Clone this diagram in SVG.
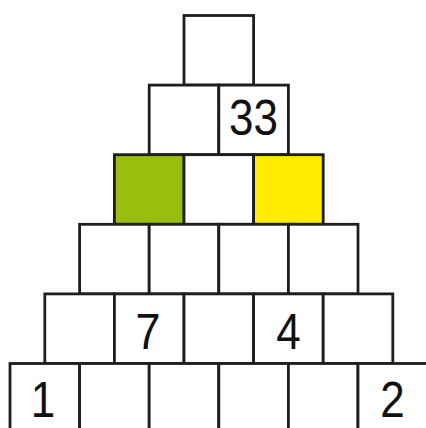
<svg xmlns="http://www.w3.org/2000/svg" width="426" height="428" viewBox="0 0 426 428">
<style>
.b{fill:#fff;stroke:#1e1e1e;stroke-width:2.8}
.g{fill:#99be0e}
.y{fill:#ffec00}
text{font-family:"Liberation Sans",Arial,sans-serif;font-size:50px;fill:#111;text-anchor:middle}
</style>
<rect width="426" height="428" fill="#fff"/>
<g id="r0"><rect class="b" x="184" y="15.5" width="69.6" height="69.6"/></g>
<g id="r1">
<rect class="b" x="149.2" y="85.1" width="69.6" height="69.6"/>
<g id="n33"><rect class="b" x="218.8" y="85.1" width="69.6" height="69.6"/><text transform="translate(253.5,135) scale(0.88,1)">33</text></g>
</g>
<g id="r2">
<rect id="green" class="b g" x="114.4" y="154.7" width="69.6" height="69.6"/>
<rect class="b" x="184" y="154.7" width="69.6" height="69.6"/>
<rect id="yellow" class="b y" x="253.6" y="154.7" width="69.6" height="69.6"/>
</g>
<g id="r3">
<rect class="b" x="79.6" y="224.3" width="69.6" height="69.6"/>
<rect class="b" x="149.2" y="224.3" width="69.6" height="69.6"/>
<rect class="b" x="218.8" y="224.3" width="69.6" height="69.6"/>
<rect class="b" x="288.4" y="224.3" width="69.6" height="69.6"/>
</g>
<g id="r4">
<rect class="b" x="44.8" y="293.9" width="69.6" height="69.6"/>
<g id="n7"><rect class="b" x="114.4" y="293.9" width="69.6" height="69.6"/><text transform="translate(148,349) scale(0.9,1)">7</text></g>
<rect class="b" x="184" y="293.9" width="69.6" height="69.6"/>
<g id="n4"><rect class="b" x="253.6" y="293.9" width="69.6" height="69.6"/><text transform="translate(288.5,349) scale(0.88,1)">4</text></g>
<rect class="b" x="323.2" y="293.9" width="69.6" height="69.6"/>
</g>
<g id="r5">
<g id="n1"><rect class="b" x="10" y="363.5" width="69.6" height="69.6"/><text transform="translate(43,417) scale(0.88,1)">1</text></g>
<rect class="b" x="79.6" y="363.5" width="69.6" height="69.6"/>
<rect class="b" x="149.2" y="363.5" width="69.6" height="69.6"/>
<rect class="b" x="218.8" y="363.5" width="69.6" height="69.6"/>
<rect class="b" x="288.4" y="363.5" width="69.6" height="69.6"/>
<g id="n2"><rect class="b" x="358" y="363.5" width="69.6" height="69.6"/><text transform="translate(392.5,417) scale(0.88,1)">2</text></g>
</g>
<g id="connectors"/>
</svg>
